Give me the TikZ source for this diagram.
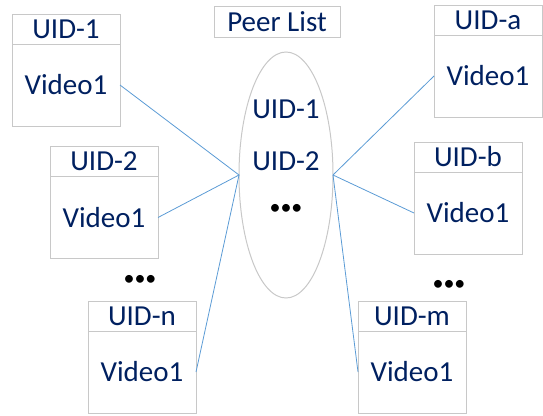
\documentclass[tikz,border=0pt]{standalone}
\usepackage{fontspec}
\setmainfont{Carlito}
\usetikzlibrary{positioning, shapes.geometric}
\definecolor{idnavy}{HTML}{002060}
\definecolor{boxgray}{HTML}{C8C8C8}
\definecolor{linkblue}{HTML}{5B9BD5}
\tikzset{
  id node/.style={
    draw=boxgray,
    line width=1pt,
    minimum width=108pt,
    minimum height=30pt,
    inner sep=0pt,
    outer sep=0pt,
    text=idnavy,
    font=\fontsize{29}{35}\selectfont,
  },
  video node/.style={
    id node,
    minimum height=82pt,
  },
  list text/.style={
    text=idnavy,
    inner sep=0pt,
    font=\fontsize{29}{35}\selectfont,
  },
  more dots/.style={
    inner sep=0pt,
    font=\fontsize{22}{28}\selectfont,
  },
  link/.style={
    draw=linkblue,
    line width=0.8pt,
  },
}

\begin{document}
\begin{tikzpicture}[x=1pt, y=-1pt]
      \useasboundingbox (0,0) rectangle (543,415);

      \node[id node, minimum width=126pt, minimum height=31pt] (title) at (277,21.5) {Peer List};
      \node[ellipse, draw=boxgray, line width=1pt, outer sep=0pt,
            minimum width=94pt, minimum height=246pt] (peers) at (286,175) {};
      \node[list text] (p1) at (286,109) {UID-1};
      \node[list text] (p2) at (286,161) {UID-2};
      \node[more dots] (pdots) at (286,209) {•••};

      \node[id node] (h1) at (66,29) {UID-1};
      \node[video node, below=0pt of h1] (v1) {Video1};
      \node[id node] (h2) at (104,161.5) {UID-2};
      \node[video node, below=0pt of h2] (v2) {Video1};
      \node[more dots] (ldots) at (140,280) {•••};
      \node[id node] (hn) at (142,316) {UID-n};
      \node[video node, below=0pt of hn] (vn) {Video1};

      \node[id node] (ha) at (488,20) {UID-a};
      \node[video node, below=0pt of ha] (va) {Video1};
      \node[id node] (hb) at (468,157) {UID-b};
      \node[video node, below=0pt of hb] (vb) {Video1};
      \node[more dots] (rdots) at (449,285) {•••};
      \node[id node] (hm) at (412,316) {UID-m};
      \node[video node, below=0pt of hm] (vm) {Video1};

      \draw[link] (v1.east) -- (peers.west) -- (v2.east);
      \draw[link] (peers.west) -- (vn.east);
      \draw[link] (va.west) -- (peers.east) -- (vb.west);
      \draw[link] (peers.east) -- (vm.west);
    \end{tikzpicture}
\end{document}
